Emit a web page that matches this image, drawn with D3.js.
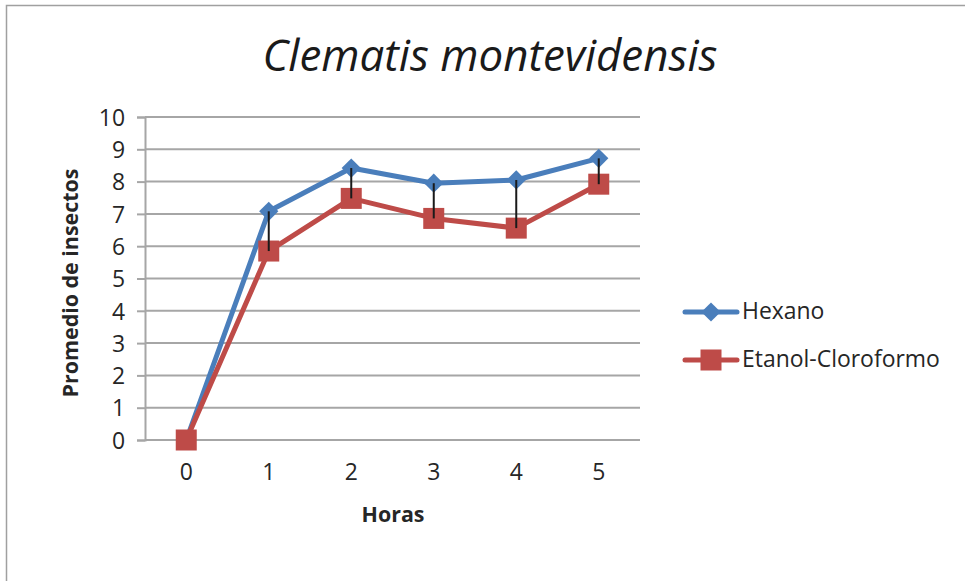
<!DOCTYPE html>
<html><head><meta charset="utf-8">
<script src="https://cdn.jsdelivr.net/npm/d3@7"></script>
<style>body{margin:0;background:#fff}svg{display:block}</style>
</head><body>
<svg id="c" width="965" height="581"></svg>
<script>
const categories = ["0","1","2","3","4","5"];
const hexano = [0, 7.08, 8.42, 7.95, 8.05, 8.72];
const etanol = [0, 5.85, 7.48, 6.86, 6.56, 7.92];
const yTicks = [0,1,2,3,4,5,6,7,8,9,10];
const seriesNames = ["Hexano", "Etanol-Cloroformo"];
const title = "Clematis montevidensis";
const xTitle = "Horas";
const yTitle = "Promedio de insectos";

const FONT = "'Open Sans', sans-serif";
const blue = "#4a7ebb", red = "#be4b48", grid = "#a6a6a6", ink = "#262626";
const svg = d3.select("#c");

function fit(sel, target, base) {
  sel.attr("font-size", base);
  const w = sel.node().getComputedTextLength();
  const s = base * target / w;
  sel.attr("font-size", s);
  return s;
}

// measure tick font size
const probe = svg.append("text").attr("font-family",FONT).text("Etanol-Cloroformo");
const labelSize = fit(probe, 198, 20);
probe.remove();

// chart area border (top & left visible)
svg.append("path").attr("d","M6.5,581 L6.5,5.5 L965,5.5").attr("fill","none").attr("stroke","#a0a0a0").attr("stroke-width",1.5);

const L=145, R=640, T=117, B=440;
const x = d3.scaleBand().domain(categories).range([L,R]);
const y = d3.scaleLinear().domain([0,10]).range([B,T]);
const cx = d => x(d)+x.bandwidth()/2;

// gridlines
svg.append("g").selectAll("line").data(yTicks).join("line")
  .attr("x1",L).attr("x2",R).attr("y1",d=>y(d)).attr("y2",d=>y(d))
  .attr("stroke",grid).attr("stroke-width",2);

// y axis
const ya = svg.append("g").attr("transform",`translate(${L},0)`)
  .call(d3.axisLeft(y).tickValues(yTicks).tickSize(8).tickPadding(12).tickFormat(d3.format("d")));
ya.select(".domain").attr("stroke",grid).attr("stroke-width",2);
ya.selectAll(".tick line").attr("stroke",grid).attr("stroke-width",2);
ya.selectAll("text").attr("font-family",FONT).attr("font-size",labelSize).attr("fill",ink).attr("dy","0.36em");

// x axis labels
const xa = svg.append("g").attr("transform",`translate(0,${B})`)
  .call(d3.axisBottom(x).tickSize(0).tickPadding(24));
xa.select(".domain").remove();
xa.selectAll("text").attr("font-family",FONT).attr("font-size",labelSize).attr("fill",ink);

const line = d3.line().x((d,i)=>cx(categories[i])).y(d=>y(d));
svg.append("path").datum(hexano).attr("d",line).attr("fill","none").attr("stroke",blue).attr("stroke-width",5).attr("stroke-linejoin","round");
svg.append("path").datum(etanol).attr("d",line).attr("fill","none").attr("stroke",red).attr("stroke-width",5).attr("stroke-linejoin","round");

svg.append("g").selectAll("path").data(hexano).join("path")
  .attr("d",d3.symbol().type(d3.symbolSquare).size(185)())
  .attr("transform",(d,i)=>`translate(${cx(categories[i])},${y(d)}) rotate(45)`)
  .attr("fill",blue);
svg.append("g").selectAll("rect").data(etanol).join("rect")
  .attr("x",(d,i)=>cx(categories[i])-10.5).attr("y",d=>y(d)-10.5)
  .attr("width",21).attr("height",21).attr("fill",red);

// high-low lines on top
svg.append("g").selectAll("line").data(categories.filter((c,i)=>hexano[i]!==etanol[i])).join("line")
  .attr("x1",cx).attr("x2",cx)
  .attr("y1",d=>y(hexano[categories.indexOf(d)]))
  .attr("y2",d=>y(etanol[categories.indexOf(d)]))
  .attr("stroke","#1a1a1a").attr("stroke-width",2);

// title
const tt = svg.append("text").attr("x",490).attr("y",71).attr("text-anchor","middle")
  .attr("font-family",FONT).attr("font-style","italic").attr("fill","#1a1a1a").text(title);
fit(tt, 455, 40);

const xt = svg.append("text").attr("x",393).attr("y",522).attr("text-anchor","middle")
  .attr("font-family",FONT).attr("font-weight","bold").attr("fill",ink).text(xTitle);
fit(xt, 63, 20);
const yt = svg.append("text").attr("transform","translate(78,283) rotate(-90)").attr("text-anchor","middle")
  .attr("font-family",FONT).attr("font-weight","bold").attr("fill",ink).text(yTitle);
fit(yt, 229, 20);

// legend
const lg = svg.append("g");
const ly = [312, 360];
lg.selectAll("line").data(seriesNames).join("line")
  .attr("x1",685).attr("x2",737).attr("y1",(d,i)=>ly[i]).attr("y2",(d,i)=>ly[i])
  .attr("stroke",(d,i)=>i?red:blue).attr("stroke-width",5).attr("stroke-linecap","round");
lg.append("path").attr("d",d3.symbol().type(d3.symbolSquare).size(185)())
  .attr("transform",`translate(711,${ly[0]}) rotate(45)`).attr("fill",blue);
lg.append("rect").attr("x",700.5).attr("y",ly[1]-10.5).attr("width",21).attr("height",21).attr("fill",red);
lg.selectAll("text").data(seriesNames).join("text")
  .attr("x",742).attr("y",(d,i)=>ly[i]+7).attr("font-family",FONT).attr("font-size",labelSize).attr("fill",ink).text(d=>d);
</script>
</body></html>
